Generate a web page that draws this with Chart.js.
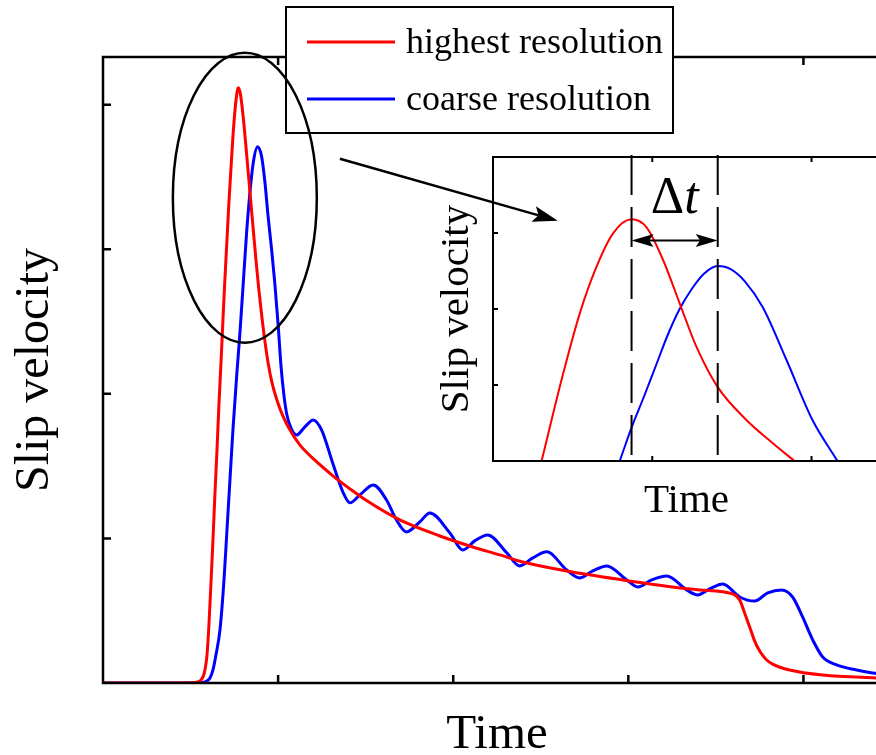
<!DOCTYPE html>
<html>
<head>
<meta charset="utf-8">
<title>Slip velocity</title>
<script src="https://cdn.jsdelivr.net/npm/chart.js@4.4.1/dist/chart.umd.min.js"></script>
<style>
  html, body { margin: 0; padding: 0; background: #fff; }
  #wrap { position: relative; width: 876px; height: 755px; overflow: hidden; background: #fff; }
  #main { position: absolute; left: 0; top: 0; }
  #inset { position: absolute; left: 420px; top: 140px; }
</style>
</head>
<body>
<div id="wrap">
  <canvas id="main" width="910" height="755"></canvas>
  <canvas id="inset" width="480" height="380"></canvas>
</div>
<script>
// slip rate history, arbitrary units (x: time, y: slip velocity)
var redTime = [0, 0.439, 0.525, 0.554, 0.571, 0.582, 0.594, 0.605, 0.616, 0.628, 0.639, 0.651, 0.662, 0.674, 0.685,
    0.696, 0.708, 0.719, 0.731, 0.742, 0.753, 0.762, 0.771, 0.782, 0.793, 0.805, 0.822, 0.839, 0.856, 0.873, 0.890, 0.908,
    0.925, 0.942, 0.964, 0.993, 1.027, 1.067, 1.124, 1.221, 1.313, 1.410, 1.507, 1.695, 1.924, 2.112, 2.266, 2.397, 2.648,
    2.968, 3.253, 3.408, 3.596, 3.636, 3.664, 3.693, 3.721, 3.750, 3.790, 3.824, 3.921, 4.110, 4.412, 4.498];
var redSlip = [0, 0, 0.003, 0.014, 0.042, 0.090, 0.194, 0.401, 0.678, 0.990, 1.301, 1.612, 1.924, 2.221, 2.512,
    2.789, 3.066, 3.322, 3.564, 3.779, 3.952, 4.055, 4.118, 4.090, 4.000, 3.862, 3.633, 3.398, 3.163, 2.934, 2.720, 2.526,
    2.360, 2.221, 2.083, 1.958, 1.848, 1.751, 1.647, 1.529, 1.433, 1.343, 1.260, 1.128, 1.017, 0.941, 0.886, 0.837, 0.775,
    0.713, 0.664, 0.644, 0.616, 0.574, 0.484, 0.388, 0.291, 0.221, 0.159, 0.131, 0.090, 0.055, 0.035, 0.031];

var blueTime = [0, 0.525, 0.582, 0.611, 0.628, 0.645, 0.668, 0.691, 0.708, 0.725, 0.742, 0.763, 0.782, 0.801, 0.820,
    0.839, 0.858, 0.883, 0.906, 0.925, 0.943, 0.963, 0.981, 1.001, 1.016, 1.033, 1.050, 1.073, 1.106, 1.153, 1.200, 1.248,
    1.315, 1.372, 1.410, 1.467, 1.543, 1.619, 1.676, 1.733, 1.809, 1.866, 1.981, 2.055, 2.123, 2.197, 2.306, 2.380, 2.454,
    2.534, 2.648, 2.723, 2.797, 2.877, 2.991, 3.054, 3.133, 3.219, 3.333, 3.396, 3.465, 3.539, 3.636, 3.721, 3.796, 3.875,
    3.938, 3.995, 4.053, 4.110, 4.189, 4.304, 4.395, 4.498];
var blueSlip = [0, 0, 0.007, 0.035, 0.090, 0.194, 0.367, 0.713, 1.059, 1.405, 1.751, 2.118, 2.422, 2.768, 3.114,
    3.391, 3.599, 3.709, 3.640, 3.460, 3.225, 2.997, 2.768, 2.464, 2.201, 1.993, 1.855, 1.765, 1.716, 1.772, 1.820, 1.751,
    1.509, 1.315, 1.246, 1.301, 1.370, 1.266, 1.128, 1.045, 1.114, 1.176, 1.038, 0.920, 0.983, 1.024, 0.900, 0.810, 0.865,
    0.907, 0.782, 0.727, 0.775, 0.810, 0.713, 0.664, 0.713, 0.740, 0.644, 0.609, 0.651, 0.685, 0.595, 0.567, 0.623, 0.644,
    0.595, 0.457, 0.298, 0.180, 0.125, 0.090, 0.069, 0.055];

// zoom on the first peak
var zoomRedTime = [0.305, 0.441, 0.545, 0.650, 0.754, 0.870, 0.964, 1.068, 1.172, 1.277, 1.409, 1.591, 1.757, 1.893];
var zoomRedSlip = [0, 1.154, 1.943, 2.557, 2.996, 3.180, 3.075, 2.645, 2.075, 1.504, 0.978, 0.539, 0.233, 0];
var zoomBlueTime = [0.796, 0.871, 0.947, 1.022, 1.097, 1.172, 1.248, 1.323, 1.411, 1.492, 1.580, 1.693, 1.843, 2.006, 2.163];
var zoomBlueSlip = [0, 0.447, 0.842, 1.250, 1.658, 2.000, 2.263, 2.461, 2.566, 2.526, 2.368, 2.026, 1.329, 0.539, 0];

var seriesNames = ['highest resolution', 'coarse resolution'];
var seriesColors = ['#ff0000', '#0000ff'];

var SERIF = '"Liberation Serif", "Times New Roman", serif';
Chart.defaults.font.family = SERIF;
Chart.defaults.color = '#000';

function toPoints(xs, ys) {
    return xs.map(function (x, i) { return { x: x, y: ys[i] }; });
}

// frame with inward ticks (right side ticks optional)
function drawFrame(chart, len, lw, rightTicks) {
    var ctx = chart.ctx, a = chart.chartArea, sx = chart.scales.x, sy = chart.scales.y;
    ctx.save();
    ctx.strokeStyle = '#000';
    ctx.lineWidth = lw;
    ctx.beginPath();
    sx.ticks.forEach(function (t) {
        if (!Number.isInteger(t.value) || t.value <= sx.min || t.value >= sx.max) return;
        var px = sx.getPixelForValue(t.value);
        ctx.moveTo(px, a.bottom); ctx.lineTo(px, a.bottom - len);
        ctx.moveTo(px, a.top); ctx.lineTo(px, a.top + len);
    });
    sy.ticks.forEach(function (t) {
        if (!Number.isInteger(t.value) || t.value <= sy.min || t.value >= sy.max) return;
        var py = sy.getPixelForValue(t.value);
        ctx.moveTo(a.left, py); ctx.lineTo(a.left + len, py);
        if (rightTicks) { ctx.moveTo(a.right, py); ctx.lineTo(a.right - len, py); }
    });
    ctx.stroke();
    ctx.strokeRect(a.left, a.top, a.right - a.left, a.bottom - a.top);
    ctx.restore();
}

// filled arrow head with a small notch at the back
function arrowHead(ctx, x0, y0, x1, y1, len, half) {
    var ang = Math.atan2(y1 - y0, x1 - x0);
    var c = Math.cos(ang), s = Math.sin(ang);
    var bx = x1 - len * c, by = y1 - len * s;
    ctx.beginPath();
    ctx.moveTo(x1, y1);
    ctx.lineTo(bx + half * s, by - half * c);
    ctx.lineTo(x1 - len * 0.8 * c, y1 - len * 0.8 * s);
    ctx.lineTo(bx - half * s, by + half * c);
    ctx.closePath();
    ctx.fill();
}

function peakTime(ds) {
    var best = ds.data[0];
    ds.data.forEach(function (p) { if (p.y > best.y) best = p; });
    return best.x;
}

var mainDecor = {
    id: 'mainDecor',
    afterDraw: function (chart) {
        var ctx = chart.ctx, sx = chart.scales.x, sy = chart.scales.y;
        drawFrame(chart, 8, 2.5, true);

        // legend box
        ctx.save();
        ctx.fillStyle = '#fff';
        ctx.fillRect(286, 7, 387, 126);
        ctx.strokeStyle = '#000';
        ctx.lineWidth = 2;
        ctx.strokeRect(286, 7, 387, 126);
        ctx.font = '36px ' + SERIF;
        ctx.textBaseline = 'alphabetic';
        chart.data.datasets.forEach(function (ds, i) {
            var ly = 42 + i * 57;
            ctx.strokeStyle = ds.borderColor;
            ctx.lineWidth = 3;
            ctx.beginPath();
            ctx.moveTo(307, ly);
            ctx.lineTo(395, ly);
            ctx.stroke();
            ctx.fillStyle = '#000';
            ctx.fillText(ds.label, 406, ly + 11);
        });

        // ellipse round the first peak
        var cx = sx.getPixelForValue(0.81), cy = sy.getPixelForValue(3.356);
        var rx = sx.getPixelForValue(0.81 + 0.411) - cx;
        var ry = cy - sy.getPixelForValue(3.356 + 1.003);
        ctx.strokeStyle = '#000';
        ctx.lineWidth = 2.5;
        ctx.beginPath();
        ctx.ellipse(cx, cy, rx, ry, 0, 0, Math.PI * 2);
        ctx.stroke();

        // pointer to the zoomed view
        var x0 = sx.getPixelForValue(1.353), y0 = sy.getPixelForValue(3.626);
        var x1 = sx.getPixelForValue(2.597), y1 = sy.getPixelForValue(3.197);
        var ang = Math.atan2(y1 - y0, x1 - x0);
        ctx.beginPath();
        ctx.moveTo(x0, y0);
        ctx.lineTo(x1 - 18 * Math.cos(ang), y1 - 18 * Math.sin(ang));
        ctx.stroke();
        ctx.fillStyle = '#000';
        arrowHead(ctx, x0, y0, x1, y1, 25, 8);
        ctx.restore();
    }
};

var insetDecor = {
    id: 'insetDecor',
    afterDraw: function (chart) {
        var ctx = chart.ctx, a = chart.chartArea, sx = chart.scales.x, sy = chart.scales.y;
        var xa = sx.getPixelForValue(peakTime(chart.data.datasets[0]));
        var xb = sx.getPixelForValue(peakTime(chart.data.datasets[1]));

        ctx.save();
        ctx.strokeStyle = '#000';
        ctx.lineWidth = 2;
        ctx.setLineDash([40, 12]);
        ctx.beginPath();
        ctx.moveTo(xa, a.top - 2); ctx.lineTo(xa, a.bottom);
        ctx.moveTo(xb, a.top - 2); ctx.lineTo(xb, a.bottom);
        ctx.stroke();
        ctx.setLineDash([]);

        // double arrow between the two peaks
        var ay = sy.getPixelForValue(2.9);
        ctx.beginPath();
        ctx.moveTo(xa + 14, ay);
        ctx.lineTo(xb - 14, ay);
        ctx.stroke();
        ctx.fillStyle = '#000';
        arrowHead(ctx, xb, ay, xa, ay, 22, 6.5);
        arrowHead(ctx, xa, ay, xb, ay, 22, 6.5);

        // delta t label
        var ty = sy.getPixelForValue(3.26);
        ctx.font = '52px ' + SERIF;
        var wD = ctx.measureText('\u0394').width;
        ctx.font = 'italic 52px ' + SERIF;
        var wT = ctx.measureText('t').width;
        var start = (xa + xb) / 2 - (wD + wT) / 2;
        ctx.textBaseline = 'alphabetic';
        ctx.font = '52px ' + SERIF;
        ctx.fillText('\u0394', start, ty);
        ctx.font = 'italic 52px ' + SERIF;
        ctx.fillText('t', start + wD, ty);
        ctx.restore();

        drawFrame(chart, 5, 2, false);
    }
};

function axisOptions(min, max, title, size, lineHeight, pad, fit) {
    return {
        type: 'linear',
        min: min,
        max: max,
        ticks: { display: false, stepSize: 1 },
        grid: { display: false },
        border: { display: false },
        title: { display: true, text: title, color: '#000', font: { size: size, lineHeight: lineHeight }, padding: pad },
        afterFit: fit
    };
}

function lineSet(label, xs, ys, color, width) {
    return {
        label: label,
        data: toPoints(xs, ys),
        borderColor: color,
        borderWidth: width,
        pointRadius: 0,
        cubicInterpolationMode: 'monotone',
        fill: false
    };
}

function createMainChart() {
    var ctx = document.getElementById('main').getContext('2d');
    new Chart(ctx, {
        type: 'line',
        data: {
            datasets: [
                lineSet(seriesNames[0], redTime, redSlip, seriesColors[0], 3),
                lineSet(seriesNames[1], blueTime, blueSlip, seriesColors[1], 3)
            ]
        },
        options: {
            responsive: false,
            animation: false,
            layout: { padding: { left: 0, top: 57, right: 19, bottom: 0 } },
            plugins: { legend: { display: false }, tooltip: { enabled: false } },
            scales: {
                x: axisOptions(0, 4.5, 'Time', 49, 0.8, { top: 0, bottom: 0 }, function (s) { s.height = 72; }),
                y: axisOptions(0, 4.33, 'Slip velocity', 48, 1, { top: 11, bottom: 0 }, function (s) { s.width = 103; })
            }
        },
        plugins: [mainDecor]
    });
}

function createInsetChart() {
    var ctx = document.getElementById('inset').getContext('2d');
    new Chart(ctx, {
        type: 'line',
        data: {
            datasets: [
                lineSet(seriesNames[0], zoomRedTime, zoomRedSlip, seriesColors[0], 2),
                lineSet(seriesNames[1], zoomBlueTime, zoomBlueSlip, seriesColors[1], 2)
            ]
        },
        options: {
            responsive: false,
            animation: false,
            layout: { padding: { left: 0, top: 17, right: 20, bottom: 0 } },
            plugins: { legend: { display: false }, tooltip: { enabled: false } },
            scales: {
                x: axisOptions(0, 2.43, 'Time', 41, 0.9, { top: 0, bottom: 0.5 }, function (s) { s.height = 59; }),
                y: axisOptions(0, 4, 'Slip velocity', 41, 1, { top: 17, bottom: 0 }, function (s) { s.width = 73; })
            }
        },
        plugins: [insetDecor]
    });
}

document.addEventListener('DOMContentLoaded', function () {
    createMainChart();
    createInsetChart();
});
</script>
</body>
</html>
